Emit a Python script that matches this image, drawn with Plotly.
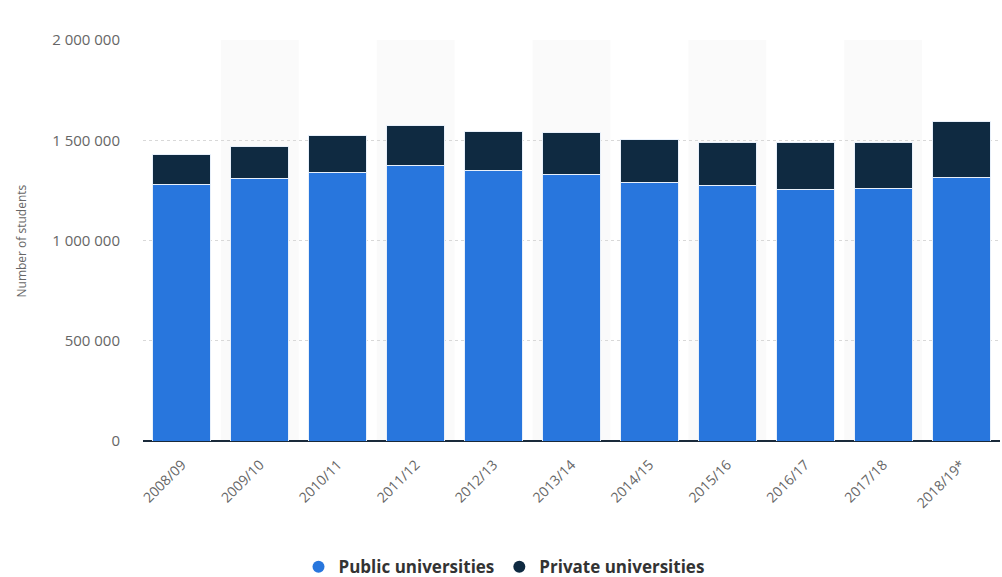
import plotly.graph_objects as go

years = ["2008/09", "2009/10", "2010/11", "2011/12", "2012/13", "2013/14",
         "2014/15", "2015/16", "2016/17", "2017/18", "2018/19*"]
public = [1277000, 1307000, 1340000, 1373000, 1347000, 1327000,
          1287000, 1272000, 1252000, 1258000, 1313000]
private = [154000, 164000, 185000, 202000, 199000, 213000,
           218000, 219000, 239000, 233000, 280000]
tick_vals = [0, 500000, 1000000, 1500000, 2000000]

PUB = "#2876dd"
PRI = "#0f2a41"

fig = go.Figure()
fig.add_trace(go.Bar(x=years, y=public, name="Public universities", marker_color=PUB,
                     marker_line=dict(color="#e8f0fa", width=1), showlegend=False))
fig.add_trace(go.Bar(x=years, y=private, name="Private universities", marker_color=PRI,
                     marker_line=dict(color="#e8f0fa", width=1), showlegend=False))
# legend entries with circle symbols
fig.add_trace(go.Scatter(x=[None], y=[None], mode="markers", name="Public universities",
                         marker=dict(color=PUB, size=16, symbol="circle")))
fig.add_trace(go.Scatter(x=[None], y=[None], mode="markers", name="Private universities",
                         marker=dict(color=PRI, size=16, symbol="circle")))

shapes = []
for i in range(1, len(years), 2):
    shapes.append(dict(type="rect", xref="x", yref="paper", x0=i - 0.5, x1=i + 0.5,
                       y0=0, y1=1, fillcolor="#fafafa", line_width=0, layer="below"))

fig.update_layout(
    width=1002, height=577,
    margin=dict(l=143, r=2, t=40, b=136),
    paper_bgcolor="white", plot_bgcolor="white",
    barmode="stack", bargap=0.255,
    separators=". ",
    font=dict(family="Open Sans, sans-serif", color="#666666"),
    shapes=shapes,
    showlegend=True,
    legend=dict(orientation="h", xref="container", yref="container", x=0.503, y=0.017,
                xanchor="center", yanchor="middle",
                font=dict(size=17, color="#333333", family="Open Sans, sans-serif", weight="bold"),
                itemsizing="constant", traceorder="normal"),
    annotations=[dict(text="Number of students", xref="paper", yref="paper",
                      x=-0.1412, y=0.5, xanchor="center", yanchor="middle",
                      textangle=-90, showarrow=False,
                      font=dict(size=12, color="#666666", family="Open Sans, sans-serif"))],
)
fig.update_xaxes(type="category", tickangle=-45, tickfont=dict(size=14, color="#666666"),
                 showgrid=False, showline=False, ticks="", ticklabelstandoff=12,
                 range=[-0.5, len(years) - 0.5])
fig.update_yaxes(range=[0, 2000000], tickvals=tick_vals, tickformat=",d",
                 tickfont=dict(size=15, color="#666666"), ticklabelstandoff=22,
                 showgrid=True, gridcolor="#d8d8d8", griddash="dot", gridwidth=1,
                 zeroline=True, zerolinecolor="#1a2a3a", zerolinewidth=1.5)

fig.write_html("out.html")
